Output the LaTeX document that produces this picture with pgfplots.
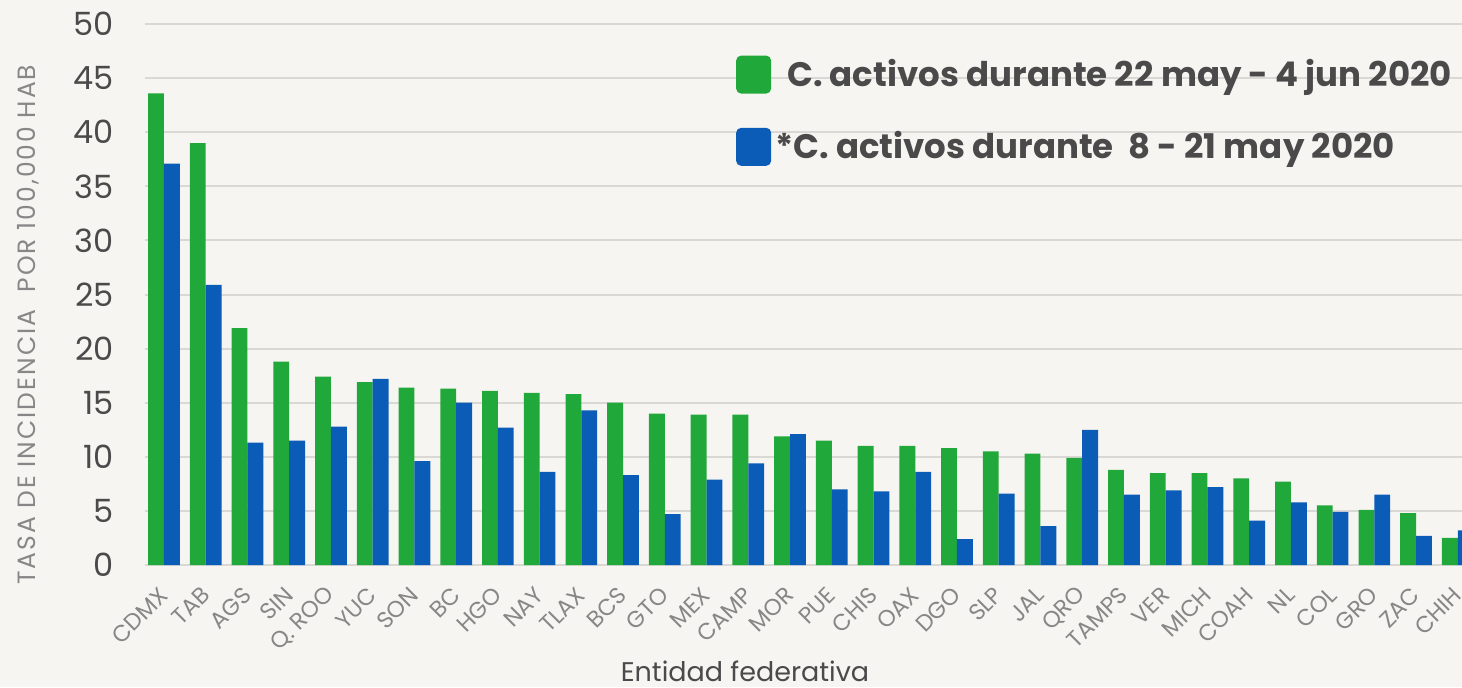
\documentclass[border=0pt]{standalone}
\usepackage{fontspec}
\setmainfont{Poppins}
\usepackage{pgfplots}
\usepackage{pgfplotstable}
\pgfplotsset{compat=1.18}

\definecolor{cgreen}{RGB}{32,168,58}
\definecolor{cblue}{RGB}{10,92,182}
\definecolor{gridc}{RGB}{218,216,212}
\definecolor{bgc}{RGB}{247,245,241}
\definecolor{darktxt}{RGB}{74,74,74}
\definecolor{lighttxt}{RGB}{135,135,135}

% tasa de incidencia por entidad (g: 22 may-4 jun, b: 8-21 may)
\pgfplotstableread{
x g b
0 43.6 37.1
1 39.0 25.9
2 21.9 11.3
3 18.8 11.5
4 17.4 12.8
5 16.9 17.2
6 16.4 9.6
7 16.3 15.0
8 16.1 12.7
9 15.9 8.6
10 15.8 14.3
11 15.0 8.3
12 14.0 4.7
13 13.9 7.9
14 13.9 9.4
15 11.9 12.1
16 11.5 7.0
17 11.0 6.8
18 11.0 8.6
19 10.8 2.4
20 10.5 6.6
21 10.3 3.6
22 9.9 12.5
23 8.8 6.5
24 8.5 6.9
25 8.5 7.2
26 8.0 4.1
27 7.7 5.8
28 5.5 4.9
29 5.1 6.5
30 4.8 2.7
31 2.5 3.2
}\datatable

\begin{document}
\begin{tikzpicture}
\useasboundingbox (-72.5pt,-61pt) rectangle (658.5pt,282.5pt);
\fill[bgc] (-72.5pt,-61pt) rectangle (658.5pt,282.5pt);
\begin{axis}[
  at={(0,0)}, anchor=south west,
  scale only axis, width=658.5pt, height=270.5pt,
  xmin=-0.455, xmax=31.1,
  ymin=0, ymax=50,
  ytick={0,5,...,50},
  xtick={0,...,31},
  xticklabels={CDMX,TAB,AGS,SIN,{Q. ROO},YUC,SON,BC,HGO,NAY,TLAX,BCS,GTO,MEX,CAMP,MOR,PUE,CHIS,OAX,DGO,SLP,JAL,QRO,TAMPS,VER,MICH,COAH,NL,COL,GRO,ZAC,CHIH},
  axis line style={draw=none},
  major tick length=0pt,
  ymajorgrids,
  grid style={gridc, line width=1pt},
  /pgf/number format/assume math mode=true,
  yticklabel style={font=\fontsize{16}{18}\selectfont, text=darktxt, xshift=-12pt},
  xticklabel style={font=\fontsize{11.5}{13}\selectfont, text=lighttxt,
    yshift=-13pt, rotate=45, anchor=east, inner sep=0pt},
  xlabel={Entidad federativa},
  xlabel style={at={(axis description cs:0.4556,-0.196)}, anchor=center, font=\fontsize{13.5}{15}\selectfont, text=darktxt},
  ylabel={TASA DE INCIDENCIA\ \ POR 100,000 HAB},
  ylabel style={at={(axis description cs:-0.0888,0.444)}, anchor=center,
    font=\fontsize{12.5}{14}\selectfont\addfontfeatures{LetterSpace=8}, text=lighttxt},
  legend style={at={(rel axis cs:0.444,0.950)}, anchor=north west, draw=none, fill=none,
    font=\fontsize{17}{19}\selectfont\bfseries, text=darktxt, row sep=17pt},
  legend cell align=left,
  legend image code/.code={\fill[#1, rounded corners=2.5pt] (0pt,-9.5pt) rectangle (17.5pt,9.5pt);},
]
\addplot[ybar, bar width=0.38, bar shift=-0.19, fill=cgreen, draw=none] table[x=x, y=g] {\datatable};
\addplot[ybar, bar width=0.38, bar shift=0.19, fill=cblue, draw=none] table[x=x, y=b] {\datatable};
\legend{\hspace{6pt}C. activos durante 22 may - 4 jun 2020, *C. activos durante\ \ 8 - 21 may 2020}
\end{axis}
\end{tikzpicture}
\end{document}
